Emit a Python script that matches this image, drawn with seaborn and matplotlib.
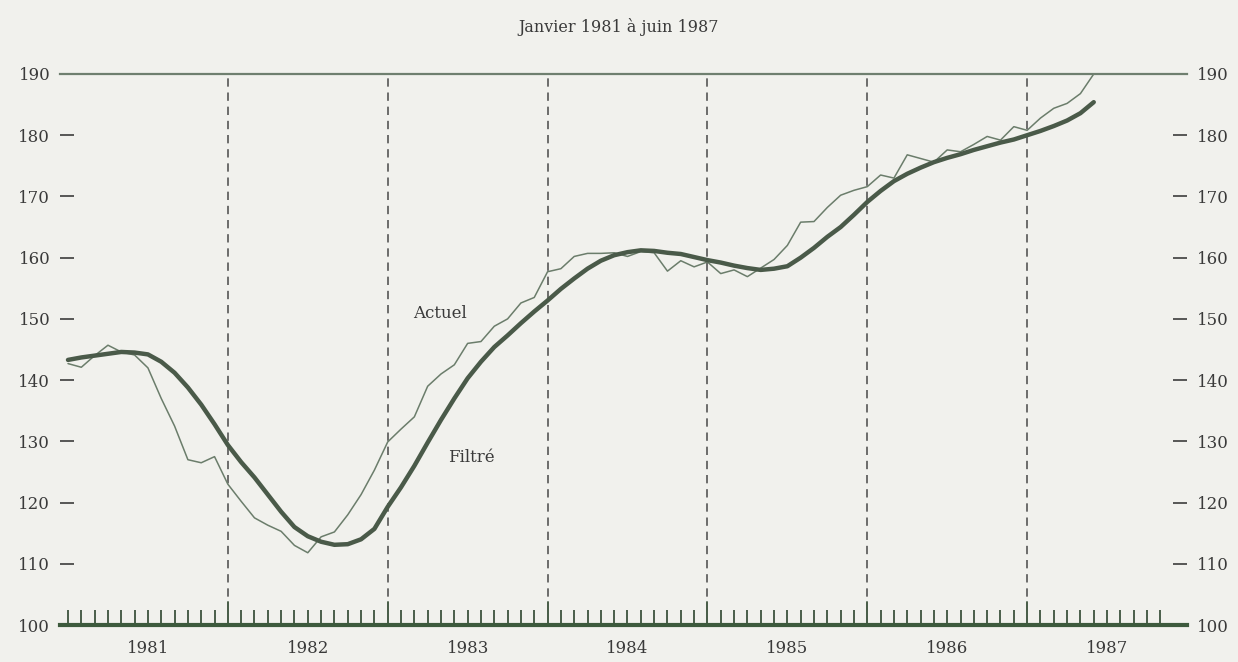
import matplotlib
matplotlib.use("Agg")
import matplotlib.pyplot as plt
import seaborn as sns
import pandas as pd
import numpy as np

# ---- data (monthly, Jan 1981 .. Jun 1987) ----
title = "Janvier 1981 à juin 1987"
years = [1981, 1982, 1983, 1984, 1985, 1986, 1987]

actuel = [
    142.7, 142.1, 144.0, 145.7, 144.6, 144.1, 142.0, 137.0, 132.5, 127.0, 126.5, 127.5,  # 1981
    123.0, 120.2, 117.5, 116.3, 115.3, 113.0, 111.8, 114.4, 115.2, 118.0, 121.3, 125.3,  # 1982
    129.9, 132.0, 134.0, 139.0, 141.0, 142.5, 146.0, 146.3, 148.8, 150.0, 152.6, 153.5,  # 1983
    157.7, 158.2, 160.2, 160.7, 160.7, 160.8, 160.2, 161.0, 160.8, 157.8, 159.5, 158.5,  # 1984
    159.3, 157.4, 158.0, 156.9, 158.3, 159.7, 162.0, 165.8, 165.9, 168.2, 170.2, 171.0,  # 1985
    171.6, 173.5, 173.0, 176.8, 176.2, 175.6, 177.6, 177.3, 178.5, 179.8, 179.2, 181.4,  # 1986
    180.8, 182.8, 184.4, 185.2, 186.8, 190.0,                                            # 1987
]
filtre = [
    143.3, 143.7, 144.0, 144.3, 144.6, 144.5, 144.2, 143.0, 141.2, 138.8, 136.0, 132.8,  # 1981
    129.4, 126.6, 124.1, 121.3, 118.5, 116.0, 114.5, 113.6, 113.1, 113.2, 114.0, 115.7,  # 1982
    119.3, 122.5, 126.0, 129.8, 133.5, 137.0, 140.3, 143.0, 145.4, 147.3, 149.3, 151.2,  # 1983
    153.0, 154.9, 156.6, 158.2, 159.5, 160.4, 160.9, 161.2, 161.1, 160.8, 160.6, 160.1,  # 1984
    159.6, 159.2, 158.7, 158.3, 158.0, 158.2, 158.6, 160.0, 161.6, 163.4, 165.0, 167.0,  # 1985
    169.1, 170.9, 172.5, 173.7, 174.7, 175.6, 176.3, 176.9, 177.6, 178.2, 178.8, 179.3,  # 1986
    180.0, 180.7, 181.5, 182.4, 183.6, 185.4,                                            # 1987
]
y_ticks = [100, 110, 120, 130, 140, 150, 160, 170, 180, 190]
n_tick_months = 83  # monthly tick marks on the base line

months = np.arange(len(actuel))
df = pd.DataFrame({"mois": months, "Actuel": actuel, "Filtré": filtre})

# ---- style ----
sns.set_theme(style="white")
plt.rcParams["font.family"] = ["DejaVu Serif"]
bg = "#f1f1ed"
txt = "#3a3a3a"

fig = plt.figure(figsize=(12.38, 6.62), dpi=100, facecolor=bg)
ax = fig.add_axes([60 / 1238, 1 - 625 / 662, (1187 - 60) / 1238, (625 - 74) / 662])
ax.set_facecolor(bg)

sns.lineplot(data=df, x="mois", y="Actuel", ax=ax, color="#6b7d6b", linewidth=1.1)
sns.lineplot(data=df, x="mois", y="Filtré", ax=ax, color="#4a5a49", linewidth=3.2)

ax.set_xlim(-0.6, 84.0)
ax.set_ylim(100, 190)

# year boundaries (dashed)
year_starts = [12 * (i + 1) for i in range(len(years) - 1)]
ax.vlines(year_starts, 100, 190, colors="#555555", linewidth=1.2,
          linestyles=(0, (5, 3.5)), zorder=1)

# spines
for s in ["left", "right"]:
    ax.spines[s].set_visible(False)
ax.spines["top"].set_color("#6f7f6f")
ax.spines["top"].set_linewidth(1.6)
ax.spines["bottom"].set_color("#3d5a3d")
ax.spines["bottom"].set_linewidth(3.0)

# x ticks: monthly marks + year labels
ax.xaxis.remove_overlapping_locs = False
ax.set_xticks(np.arange(n_tick_months), minor=True)
ax.set_xticks([12 * i + 6 for i in range(len(years))])
ax.set_xticklabels([str(y) for y in years])
ax.tick_params(axis="x", which="minor", direction="in", length=11, width=1.4,
               color="#4a5f4a", bottom=True)
ax.tick_params(axis="x", which="major", length=0, pad=11, labelsize=12,
               labelcolor=txt)
for yr in year_starts:
    ax.plot([yr, yr], [100, 103.8], color="#4a5f4a", linewidth=1.4, zorder=2)

# y ticks on both sides
ax.set_yticks(y_ticks)
ax.tick_params(axis="y", which="major", direction="in", length=10, width=1.3,
               color="#4a4a4a", left=True, right=True, labelleft=True,
               labelright=True, pad=7, labelsize=12, labelcolor=txt)
ax.set_xlabel("")
ax.set_ylabel("")
ax.grid(False)

# labels
ax.text(27.9, 150.8, "Actuel", ha="center", va="center", fontsize=12, color=txt)
ax.text(30.3, 127.4, "Filtré", ha="center", va="center", fontsize=12, color=txt)

fig.text(0.5, 1 - 27 / 662, title, ha="center", va="center", fontsize=11.5, color=txt)

fig.savefig("out.png", dpi=100, facecolor=bg)
